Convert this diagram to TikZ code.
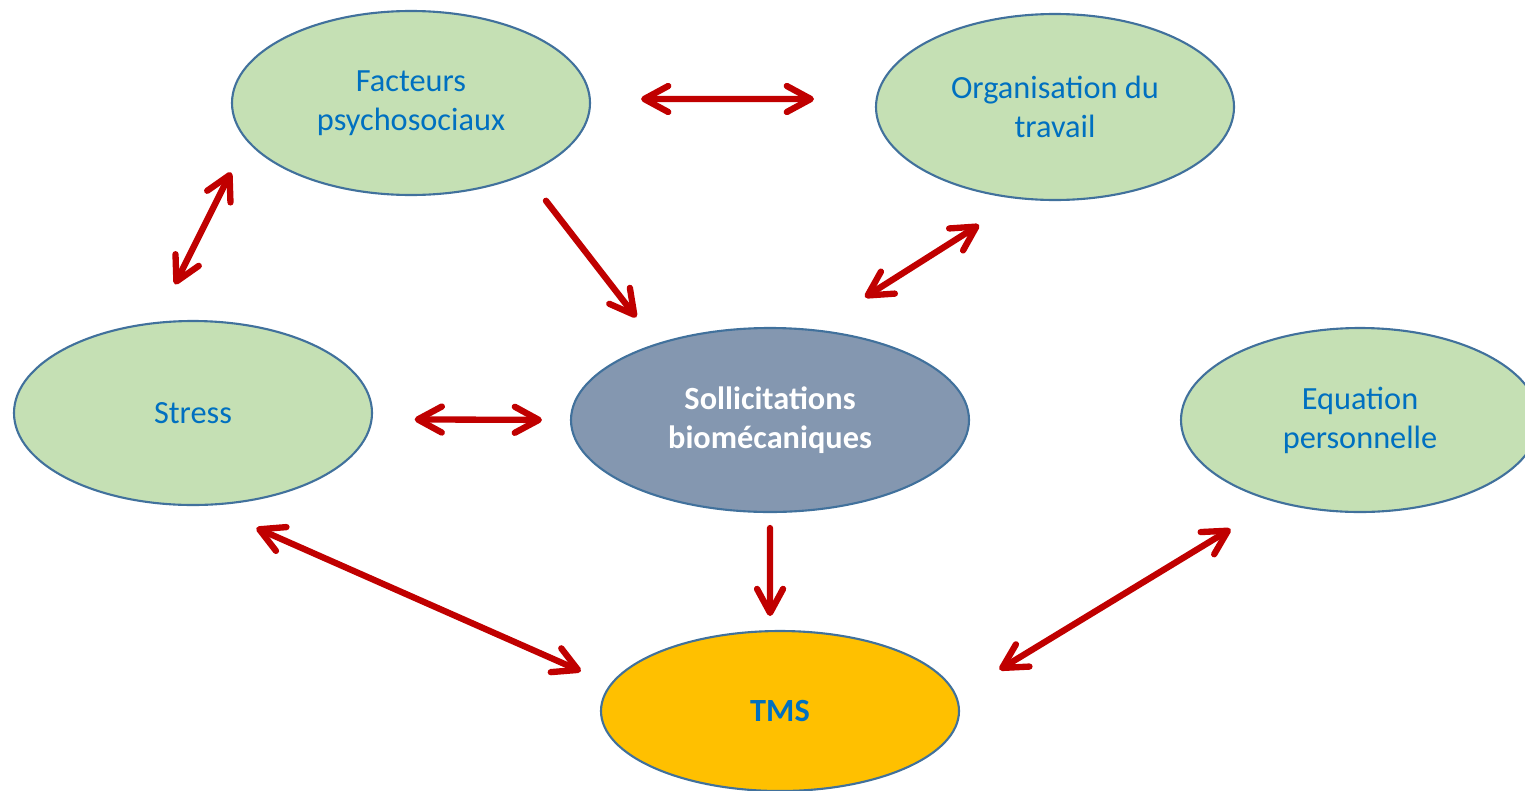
\documentclass[tikz,border=0pt]{standalone}
\usepackage{fontspec}
\setmainfont{Carlito}
\usepackage{xcolor}
\usetikzlibrary{arrows.meta,shapes.geometric}
\definecolor{vertclair}{HTML}{C5E0B4}
\definecolor{bordbleu}{HTML}{41719C}
\definecolor{textebleu}{HTML}{0070C0}
\definecolor{gris}{HTML}{8497B0}
\definecolor{orangetms}{HTML}{FFC000}
\definecolor{rouge}{HTML}{C00000}
\tikzset{
	bulle/.style={ellipse, draw=bordbleu, line width=0.6pt, fill=vertclair, inner sep=0pt,
		minimum width=3.58cm, minimum height=1.84cm, align=center, text=textebleu,
		font=\fontsize{9.2}{11.1}\selectfont},
	fleche/.style={rouge, line width=1.8pt, line cap=round,
		-{Straight Barb[length=2.4mm,width=2.6mm,round]}},
	dfleche/.style={fleche, {Straight Barb[length=2.4mm,width=2.6mm,round]}-{Straight Barb[length=2.4mm,width=2.6mm,round]}}
}
\begin{document}
\begin{tikzpicture}
	\useasboundingbox (0,0) rectangle (15.25,7.9);
	\node[bulle] (fact) at (4.11,6.87) {Facteurs\\psychosociaux};
	\node[bulle, minimum height=1.86cm] (org) at (10.55,6.83) {Organisation du\\travail};
	\node[bulle] (stress) at (1.93,3.77) {Stress};
	\node[bulle, minimum width=3.98cm, fill=gris, text=white, font=\fontsize{9.2}{11.1}\selectfont\bfseries] (soll) at (7.70,3.70) {Sollicitations\\biomécaniques};
	\node[bulle] (eq) at (13.60,3.70) {Equation\\personnelle};
	\node[bulle, minimum height=1.60cm, fill=orangetms, font=\fontsize{9.2}{11.1}\selectfont\bfseries] (tms) at (7.80,0.79) {TMS};

	\draw[dfleche, shorten <=0.50cm, shorten >=0.61cm] ([yshift=0.04cm]fact.east) -- ([yshift=0.08cm]org.west);
	\draw[dfleche, shorten <=0.35cm, shorten >=0.42cm] (fact.193) -- (stress.112);
	\draw[fleche, shorten <=0.33cm, shorten >=0.33cm] (fact.328) -- (soll.146);
	\draw[dfleche, shorten <=0.48cm, shorten >=0.60cm] (org.249) -- (soll.64);
	\draw[dfleche, shorten <=0.42cm, shorten >=0.28cm] (stress.358) -- (soll.west);
	\draw[dfleche, shorten <=0.55cm, shorten >=0.32cm] (stress.278) -- (tms.171);
	\draw[fleche, shorten <=0.15cm, shorten >=0.14cm] (soll.south) -- (tms.97);
	\draw[dfleche, shorten <=0.52cm, shorten >=0.50cm] (eq.224) -- (tms.5);
\end{tikzpicture}
\end{document}
